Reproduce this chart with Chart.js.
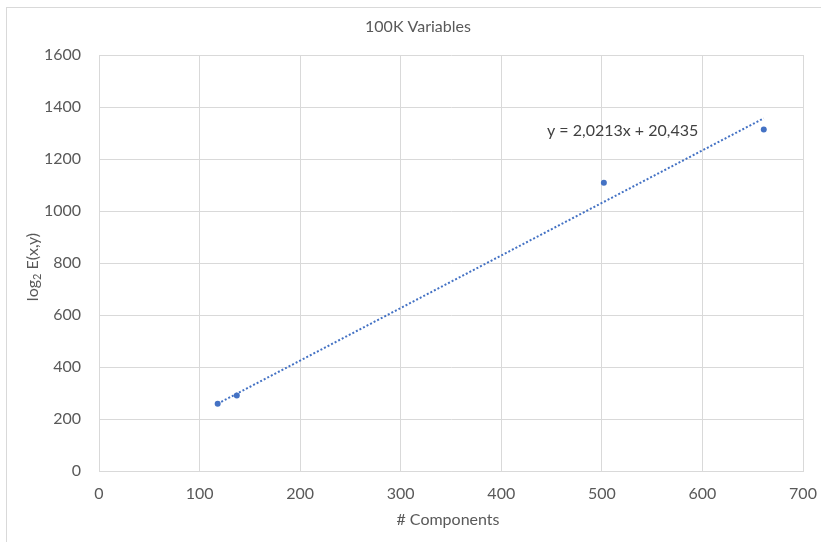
<!DOCTYPE html>
<html>
<head>
<meta charset="utf-8">
<script src="https://cdn.jsdelivr.net/npm/chart.js@4/dist/chart.umd.min.js"></script>
<style>
  html, body { margin: 0; padding: 0; background: #ffffff; }
  #wrap { width: 821px; height: 542px; position: relative; }
</style>
</head>
<body>
<div id="wrap"><canvas id="c" width="821" height="542"></canvas></div>
<script>
// Number of components per instance and the measured log2 E(x,y)
const components = [118, 137, 502, 661];
const log2E = [259, 290, 1109, 1313];

// Linear trendline coefficients (shown in the equation label)
const slope = 2.0213;
const intercept = 20.435;
const equationText = 'y = 2,0213x + 20,435';

const chartTitle = '100K Variables';
const xTitle = '# Components';

const xTicks = [0, 100, 200, 300, 400, 500, 600, 700];
const yTicks = [0, 200, 400, 600, 800, 1000, 1200, 1400, 1600];

const BLUE = '#4472C4';
const GRID = '#d9d9d9';
const TEXT = '#595959';
const FONT = 'Lato, "Open Sans", sans-serif';
const FS = 16;

const points = components.map((x, i) => ({ x: x, y: log2E[i] }));
const xMin = Math.min(...components);
const xMax = Math.max(...components);
const trend = [
  { x: xMin, y: slope * xMin + intercept },
  { x: xMax, y: slope * xMax + intercept }
];

// Frame, titles and equation label
const decorations = {
  id: 'decorations',
  beforeDraw(chart) {
    const ctx = chart.ctx;
    ctx.save();
    ctx.fillStyle = '#ffffff';
    ctx.fillRect(0, 0, chart.width, chart.height);
    ctx.strokeStyle = GRID;
    ctx.lineWidth = 1;
    ctx.strokeRect(6.5, 7.5, chart.width + 20, chart.height + 20);
    ctx.restore();
  },
  afterDraw(chart) {
    const ctx = chart.ctx;
    const area = chart.chartArea;
    ctx.save();
    ctx.fillStyle = TEXT;
    ctx.textBaseline = 'middle';
    ctx.textAlign = 'center';
    ctx.font = FS + 'px ' + FONT;
    ctx.fillText(chartTitle, 418, 27);
    ctx.fillText(xTitle, (area.left + area.right) / 2 - 3, 520);

    // rotated y-axis title with subscript
    const cy = (area.top + area.bottom) / 2 + 4;
    ctx.translate(33, cy);
    ctx.rotate(-Math.PI / 2);
    const big = FS + 'px ' + FONT, small = '11px ' + FONT;
    ctx.font = big;
    const w1 = ctx.measureText('log').width;
    const w3 = ctx.measureText(' E(x,y)').width;
    ctx.font = small;
    const w2 = ctx.measureText('2').width;
    let x0 = -(w1 + w2 + w3) / 2;
    ctx.textAlign = 'left';
    ctx.font = big;
    ctx.fillText('log', x0, 0);
    ctx.font = small;
    ctx.fillText('2', x0 + w1, 4);
    ctx.font = big;
    ctx.fillText(' E(x,y)', x0 + w1 + w2, 0);
    ctx.restore();

    ctx.save();
    ctx.fillStyle = '#404040';
    ctx.font = FS + 'px ' + FONT;
    ctx.textBaseline = 'middle';
    ctx.textAlign = 'left';
    ctx.fillText(equationText, 547, 131);
    ctx.restore();
  }
};

new Chart(document.getElementById('c'), {
  type: 'scatter',
  data: {
    datasets: [
      {
        label: 'log2 E(x,y)',
        data: points,
        backgroundColor: BLUE,
        borderColor: BLUE,
        pointRadius: 3,
        pointBorderWidth: 0,
        order: 1
      },
      {
        type: 'line',
        label: 'Linear trend',
        data: trend,
        borderColor: BLUE,
        borderWidth: 2,
        borderDash: [2, 2],
        pointRadius: 0,
        fill: false,
        order: 2
      }
    ]
  },
  options: {
    responsive: false,
    animation: false,
    devicePixelRatio: 1,
    layout: { padding: { top: 55, right: 18, bottom: 0, left: 0 } },
    plugins: {
      legend: { display: false },
      tooltip: { enabled: false },
      title: { display: false }
    },
    scales: {
      x: {
        type: 'linear',
        min: 0,
        max: 700,
        afterBuildTicks(scale) { scale.ticks = xTicks.map(v => ({ value: v })); },
        afterFit(scale) { scale.height = 71; scale.paddingLeft = 0; scale.paddingRight = 0; },
        grid: { color: GRID, drawTicks: false, lineWidth: 1 },
        border: { color: GRID },
        ticks: { color: TEXT, font: { family: FONT, size: FS }, padding: 13, maxRotation: 0,
                 callback: v => String(v) }
      },
      y: {
        type: 'linear',
        min: 0,
        max: 1600,
        afterBuildTicks(scale) { scale.ticks = yTicks.map(v => ({ value: v })); },
        afterFit(scale) { scale.width = 99; scale.paddingTop = 0; scale.paddingBottom = 0; },
        grid: { color: GRID, drawTicks: false, lineWidth: 1 },
        border: { color: GRID },
        ticks: { color: TEXT, font: { family: FONT, size: FS }, padding: 18,
                 callback: v => String(v) }
      }
    }
  },
  plugins: [decorations]
});
</script>
</body>
</html>
